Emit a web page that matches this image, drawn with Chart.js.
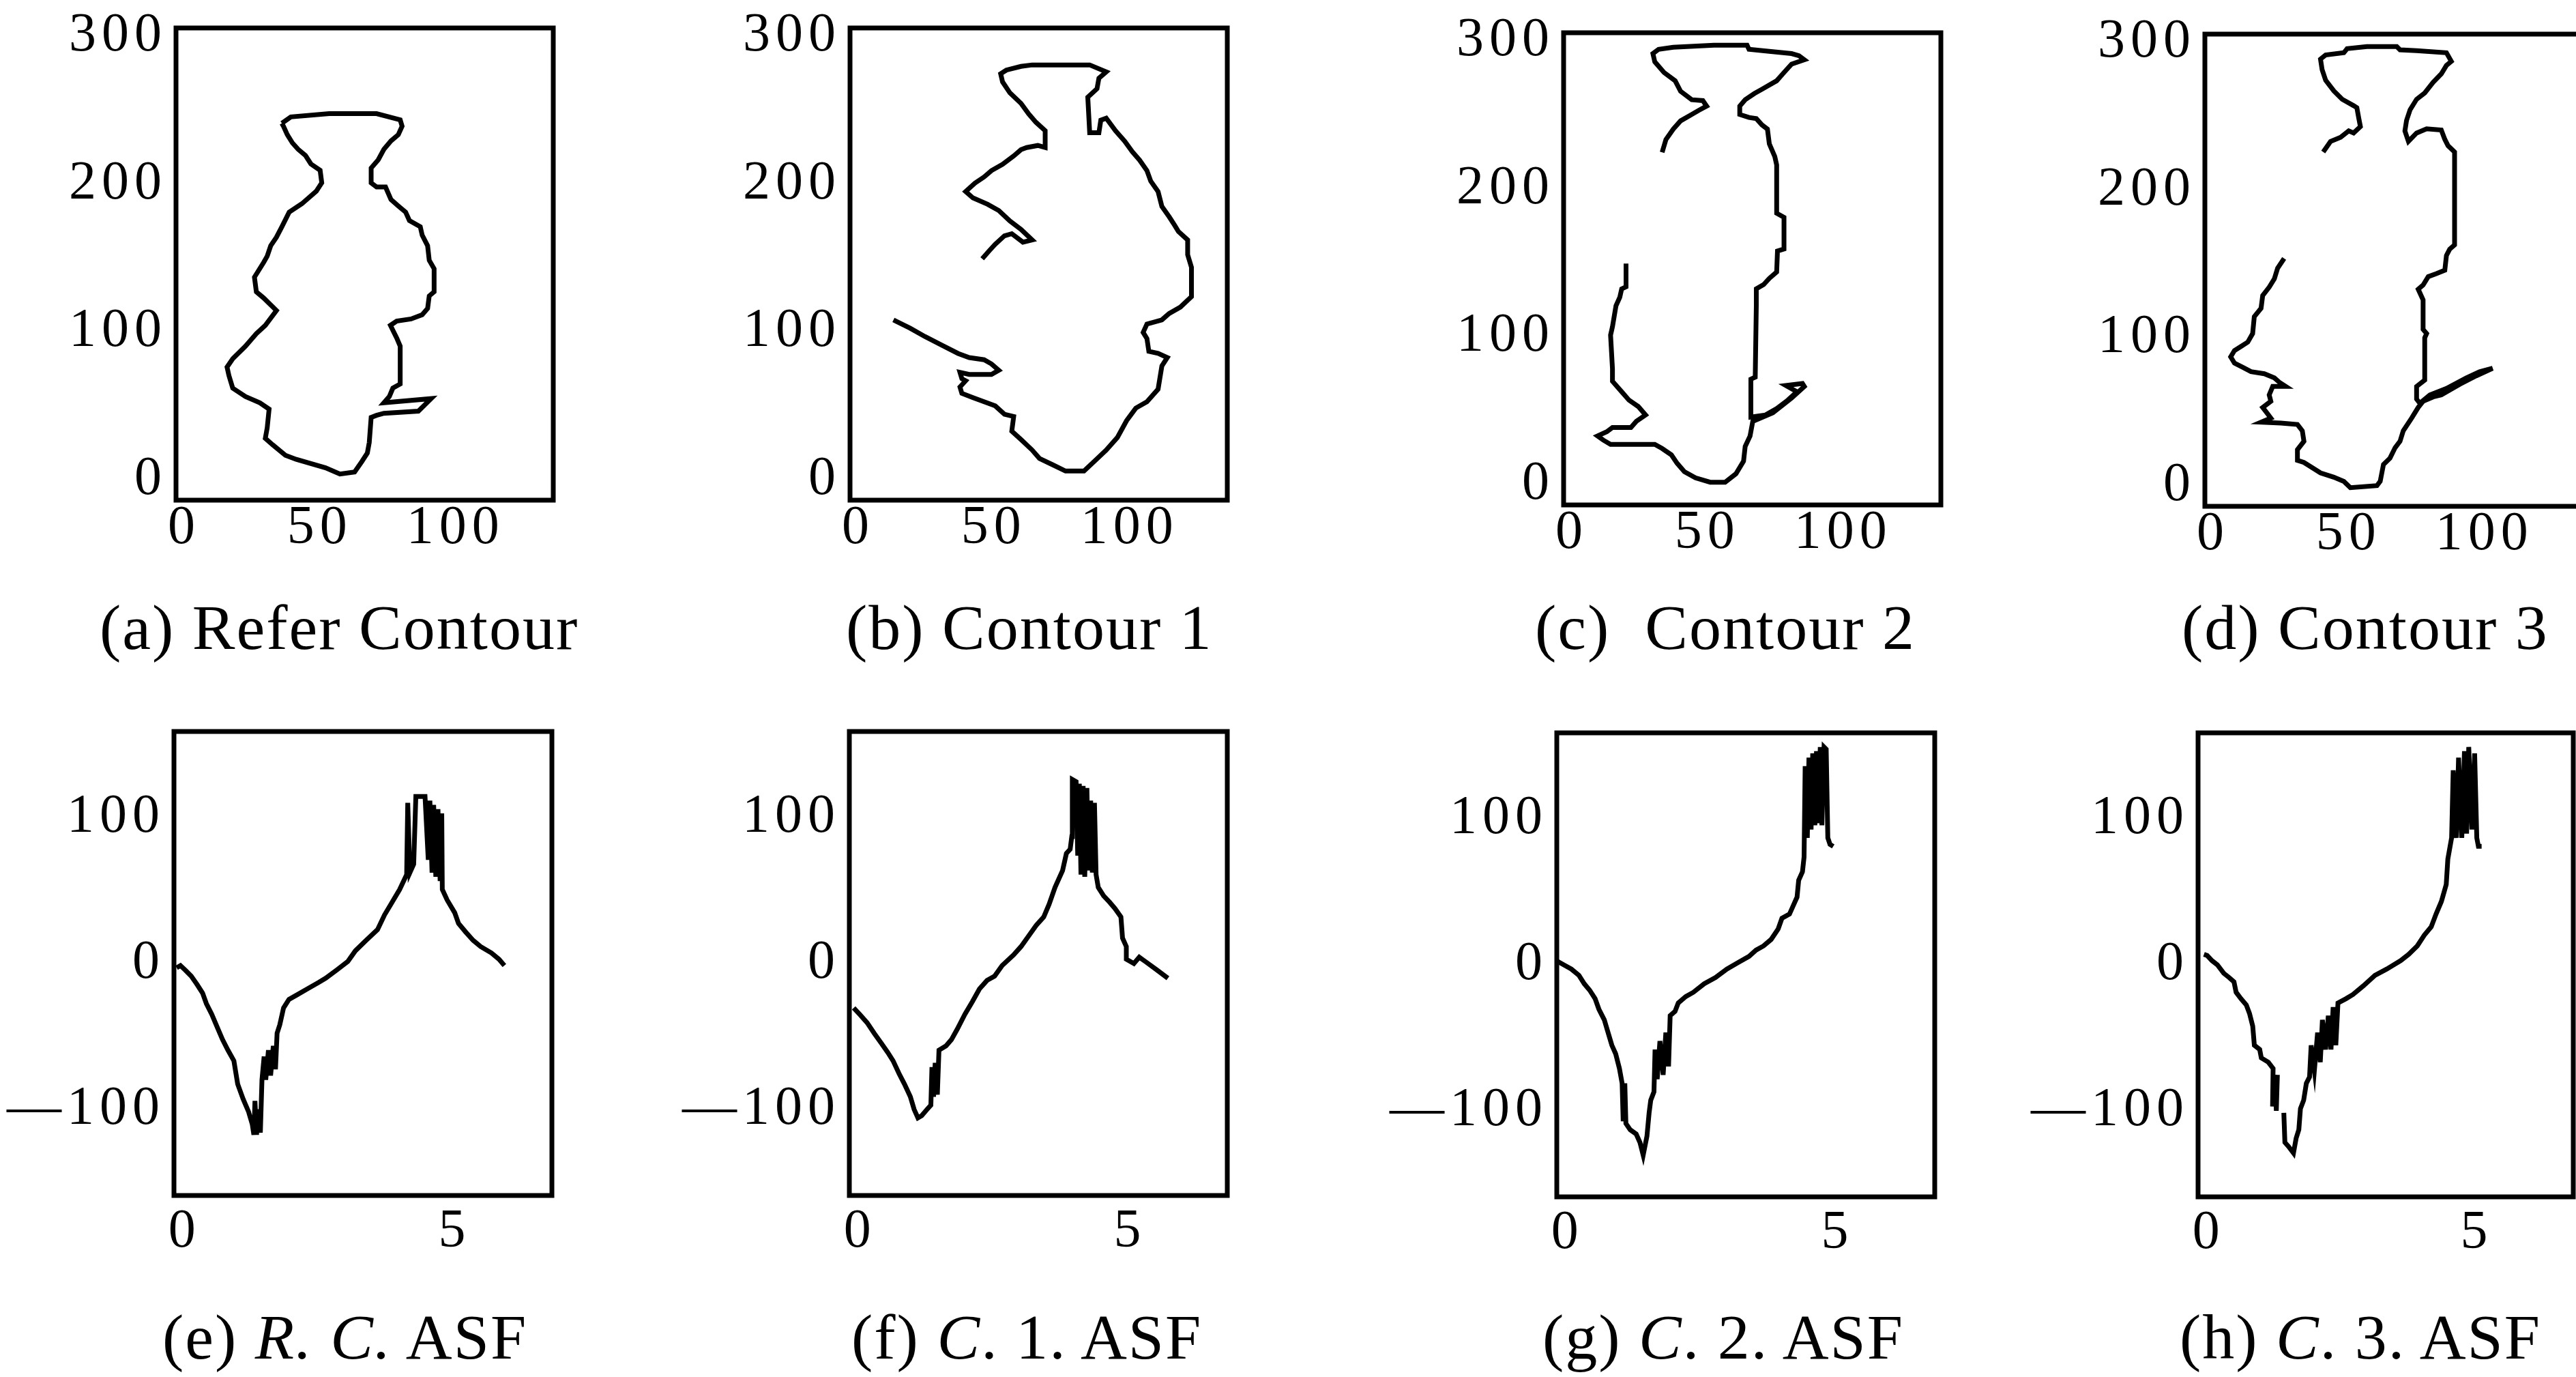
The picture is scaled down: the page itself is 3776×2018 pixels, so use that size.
<!DOCTYPE html>
<html>
<head>
<meta charset="utf-8">
<script src="https://cdn.jsdelivr.net/npm/chart.js@4.4.1/dist/chart.umd.min.js"></script>
<style>
  html, body { margin: 0; padding: 0; background: #fff; width: 3776px; height: 2018px; overflow: hidden; }
  body { position: relative; }
  canvas { position: absolute; }
  .cap { position: absolute; font-family: 'Liberation Serif', 'Times New Roman', serif; font-size: 94px; line-height: 94px; letter-spacing: 2px; white-space: pre; color: #000; }
</style>
</head>
<body>
<script>
// tick labels
const contourXTicks = [0, 50, 100];
const contourYTicks = [0, 100, 200, 300];
const asfXTicks = [0, 5];
const asfYTicks = [-100, 0, 100];

// (a) reference contour (closed)
const aX = [36.0, 39.3, 53.4, 70.9, 79.6, 80.3, 78.9, 76.2, 73.6, 71.5, 68.9, 68.9, 70.9, 74.2, 76.2, 78.9, 81.6, 83.0, 87.0, 87.7, 89.7, 90.3, 92.1, 92.1, 90.3, 89.7, 87.7, 83.6, 78.3, 76.0, 78.3, 79.6, 79.6, 76.9, 75.6, 73.6, 91.0, 86.3, 73.6, 70.9, 68.9, 68.2, 67.5, 65.5, 62.8, 57.4, 52.1, 41.3, 37.3, 32.6, 29.9, 30.6, 31.3, 27.9, 22.6, 17.9, 16.5, 15.8, 17.9, 22.6, 26.6, 29.9, 34.0, 29.3, 26.6, 25.9, 29.3, 30.6, 31.9, 34.0, 36.0, 38.7, 43.4, 48.7, 50.7, 50.1, 46.7, 44.7, 42.0, 39.9, 38.0, 36.6, 36.0];
const aY = [241.0, 245.3, 247.5, 247.5, 243.3, 239.0, 233.3, 229.1, 223.4, 216.3, 210.7, 200.7, 197.9, 197.9, 189.4, 185.1, 180.9, 175.2, 171.0, 165.3, 158.2, 148.3, 142.6, 127.0, 124.2, 115.7, 111.4, 108.6, 107.2, 104.3, 95.8, 90.2, 64.6, 61.8, 56.1, 51.9, 54.7, 46.2, 44.8, 43.4, 42.0, 25.0, 17.9, 12.2, 5.1, 3.7, 7.9, 13.6, 16.4, 23.5, 27.8, 34.9, 47.6, 51.9, 56.1, 61.8, 70.3, 76.0, 81.7, 90.2, 98.7, 104.3, 114.3, 122.8, 127.0, 136.9, 146.9, 151.1, 158.2, 163.9, 171.0, 180.9, 186.6, 195.1, 200.7, 209.2, 213.5, 219.2, 223.4, 227.7, 233.3, 239.0, 241.0];

// (b) contour 1
const bX = [13.0, 19.1, 24.6, 30.7, 36.8, 40.9, 46.4, 49.1, 51.8, 49.1, 40.9, 37.5, 38.2, 39.6, 37.5, 38.2, 42.3, 46.4, 50.5, 53.9, 57.3, 56.6, 60.0, 64.1, 66.8, 71.6, 76.4, 83.2, 87.3, 91.4, 95.5, 98.9, 102.3, 106.4, 110.5, 111.9, 113.9, 110.5, 107.1, 106.4, 105.0, 106.4, 111.9, 114.6, 118.7, 122.8, 122.8, 121.4, 121.4, 118.0, 116.6, 114.6, 111.9, 110.5, 107.8, 106.4, 103.7, 101.0, 98.2, 94.8, 91.4, 89.4, 88.7, 85.3, 84.6, 88.0, 88.7, 91.4, 85.3, 64.1, 60.0, 54.6, 52.5, 53.2, 55.9, 60.0, 62.8, 65.5, 68.9, 68.9, 66.2, 62.1, 60.0, 57.3, 53.2, 49.1, 46.4, 43.0, 39.6, 42.3, 47.7, 51.8, 55.9, 60.0, 64.1, 60.7, 56.6, 53.9, 50.5, 48.4, 45.7];
const bY = [108.0, 102.4, 96.7, 91.0, 85.3, 82.5, 81.0, 78.2, 73.9, 71.1, 71.1, 72.5, 68.2, 66.8, 62.6, 58.3, 55.4, 52.6, 49.8, 44.1, 42.6, 32.7, 27.0, 19.9, 14.2, 10.0, 5.7, 5.7, 12.8, 19.9, 28.4, 39.8, 48.3, 52.6, 61.1, 76.8, 82.5, 85.3, 86.7, 95.3, 99.5, 105.2, 108.0, 112.3, 116.6, 123.7, 143.6, 152.1, 162.1, 167.8, 172.0, 177.7, 184.8, 194.8, 201.9, 209.0, 216.1, 221.8, 228.9, 236.0, 244.5, 243.1, 234.6, 234.6, 258.7, 264.4, 271.5, 275.8, 280.5, 280.5, 279.5, 277.0, 274.5, 269.0, 261.6, 254.5, 247.4, 241.7, 236.0, 224.6, 226.0, 224.6, 223.2, 218.9, 213.2, 209.0, 204.7, 200.5, 194.8, 190.5, 186.2, 182.0, 174.9, 169.2, 162.1, 160.6, 166.3, 164.9, 159.2, 155.0, 149.3];

// (c) contour 2
const cX = [33.3, 34.7, 37.4, 40.1, 44.2, 46.9, 49.7, 48.3, 44.2, 40.1, 38.1, 34.0, 30.6, 29.9, 32.0, 37.4, 52.4, 64.6, 65.3, 72.8, 81.0, 83.7, 85.7, 81.0, 78.2, 75.5, 70.1, 67.3, 63.9, 61.9, 61.9, 65.3, 68.0, 70.1, 72.1, 72.8, 74.8, 75.5, 75.5, 78.2, 78.2, 75.8, 75.5, 72.8, 70.7, 68.0, 68.0, 67.6, 66.0, 66.0, 71.4, 75.5, 79.6, 83.0, 78.9, 85.0, 85.7, 81.0, 74.1, 66.7, 65.7, 63.9, 63.3, 60.5, 56.5, 51.0, 45.6, 41.5, 38.8, 36.7, 33.3, 30.6, 14.3, 11.6, 9.5, 12.9, 15.0, 21.8, 23.8, 27.2, 24.5, 21.1, 18.4, 15.0, 15.0, 14.3, 15.0, 16.3, 17.7, 18.4, 20.0, 20.0];
const cY = [224.6, 233.2, 240.3, 245.9, 250.2, 253.1, 255.9, 259.6, 260.2, 265.9, 273.0, 278.6, 285.8, 291.4, 294.3, 295.7, 297.1, 297.1, 294.3, 292.9, 291.4, 290.0, 287.2, 284.3, 278.6, 273.0, 267.3, 264.4, 260.2, 255.9, 250.2, 248.2, 247.4, 243.1, 240.3, 230.3, 221.8, 216.1, 183.4, 180.6, 159.2, 157.8, 143.6, 139.3, 135.1, 132.2, 120.8, 72.5, 71.1, 45.5, 46.9, 51.2, 56.9, 62.6, 66.8, 68.2, 66.2, 58.3, 48.3, 42.6, 32.7, 25.6, 15.6, 7.1, 1.4, 1.4, 4.3, 8.5, 14.2, 19.9, 24.2, 27.0, 27.0, 29.9, 32.7, 35.5, 38.4, 38.4, 42.6, 46.9, 52.6, 56.9, 62.6, 69.7, 78.2, 100.9, 106.6, 120.8, 126.5, 132.2, 133.6, 149.3];

// (d) contour 3
const dX = [40.6, 43.3, 47.0, 50.0, 51.8, 54.3, 53.7, 53.0, 51.8, 47.6, 44.5, 41.5, 40.2, 39.6, 41.5, 48.2, 49.4, 56.7, 67.7, 68.9, 75.0, 86.0, 87.8, 86.0, 84.1, 81.1, 78.0, 75.0, 72.6, 71.3, 70.7, 72.0, 75.0, 78.7, 84.1, 85.4, 86.6, 89.0, 89.0, 87.2, 86.0, 85.4, 82.3, 79.3, 77.4, 75.6, 77.4, 77.4, 78.7, 78.0, 78.0, 75.0, 75.0, 76.2, 79.9, 86.0, 93.3, 98.2, 103.0, 97.0, 90.9, 84.1, 81.1, 77.4, 75.6, 73.2, 70.1, 68.9, 67.1, 65.2, 62.8, 61.6, 60.4, 50.6, 48.2, 44.5, 39.6, 37.2, 33.5, 31.1, 31.1, 33.5, 32.9, 31.1, 25.0, 17.7, 21.3, 20.1, 18.3, 21.3, 20.7, 22.0, 26.8, 24.4, 22.6, 18.9, 14.0, 11.0, 7.9, 6.5, 7.9, 10.4, 12.8, 14.6, 15.2, 17.7, 18.3, 20.7, 22.6, 23.8, 26.2];
const dY = [225.7, 232.9, 235.7, 240.0, 238.6, 242.9, 248.6, 255.7, 257.1, 261.4, 267.1, 274.3, 281.4, 288.6, 291.4, 292.9, 295.7, 297.1, 297.1, 294.9, 294.3, 292.9, 287.1, 284.3, 278.6, 272.9, 265.7, 261.4, 254.3, 247.1, 240.0, 232.9, 238.6, 241.4, 240.6, 234.3, 230.0, 225.7, 162.9, 160.0, 155.7, 145.7, 143.4, 141.4, 135.7, 132.9, 125.7, 105.7, 102.9, 100.0, 71.4, 67.1, 58.6, 55.7, 61.4, 65.7, 72.9, 77.1, 79.4, 74.3, 68.6, 61.4, 60.0, 57.1, 52.9, 45.7, 37.1, 30.0, 25.7, 18.6, 14.3, 2.9, 0.0, -1.4, 2.9, 5.7, 8.6, 11.4, 15.7, 17.1, 24.3, 30.0, 37.1, 41.4, 42.3, 42.9, 45.7, 48.6, 52.9, 57.1, 61.4, 67.1, 67.1, 70.0, 72.9, 75.7, 77.1, 80.0, 82.9, 87.1, 91.4, 94.3, 97.1, 102.9, 114.3, 120.0, 128.6, 134.3, 140.0, 147.1, 153.7];

// (e) R.C. ASF
const eX = [-0.15, -0.08, 0.02, 0.12, 0.23, 0.33, 0.40, 0.50, 0.60, 0.70, 0.80, 0.91, 0.98, 1.08, 1.18, 1.25, 1.28, 1.30, 1.33, 1.36, 1.40, 1.43, 1.47, 1.50, 1.55, 1.59, 1.64, 1.68, 1.71, 1.76, 1.83, 1.93, 2.07, 2.27, 2.48, 2.61, 2.82, 3.02, 3.16, 3.36, 3.57, 3.70, 3.84, 3.98, 4.11, 4.13, 4.17, 4.24, 4.28, 4.45, 4.51, 4.54, 4.58, 4.61, 4.65, 4.69, 4.73, 4.76, 4.77, 4.86, 5.00, 5.07, 5.20, 5.34, 5.48, 5.68, 5.82, 5.92];
const eY = [-2.9, -1.4, -4.9, -8.7, -14.5, -20.3, -27.5, -34.8, -43.5, -52.2, -59.4, -66.7, -82.6, -92.8, -101.4, -110.1, -117.4, -94.2, -117.4, -100.0, -115.9, -79.7, -63.8, -79.7, -59.4, -76.8, -56.5, -72.5, -47.8, -42.0, -30.4, -24.6, -21.7, -17.4, -13.0, -10.1, -4.3, 1.4, 8.7, 15.9, 23.2, 33.3, 42.0, 50.7, 60.9, 110.1, 62.3, 68.1, 114.5, 114.5, 71.0, 111.6, 62.3, 108.7, 59.4, 105.8, 56.5, 102.9, 50.7, 43.5, 34.8, 27.5, 21.7, 15.9, 11.6, 7.2, 2.9, -1.4];

// (f) C.1. ASF
const fX = [-0.12, -0.01, 0.13, 0.26, 0.40, 0.51, 0.61, 0.72, 0.82, 0.93, 1.00, 1.07, 1.14, 1.24, 1.31, 1.33, 1.36, 1.39, 1.43, 1.46, 1.59, 1.69, 1.80, 1.94, 2.08, 2.21, 2.35, 2.49, 2.63, 2.84, 2.98, 3.12, 3.26, 3.40, 3.50, 3.61, 3.75, 3.82, 3.89, 3.92, 3.93, 4.00, 4.03, 4.06, 4.09, 4.13, 4.16, 4.20, 4.23, 4.27, 4.30, 4.34, 4.37, 4.41, 4.51, 4.62, 4.72, 4.83, 4.86, 4.93, 4.93, 5.07, 5.17, 5.28, 5.49, 5.70];
const fY = [-30.4, -34.8, -40.6, -47.8, -55.1, -60.9, -66.7, -75.4, -82.6, -91.3, -100.0, -105.8, -104.3, -100.0, -97.1, -71.0, -91.3, -68.1, -89.9, -59.4, -56.5, -52.2, -44.9, -34.8, -26.1, -17.4, -11.6, -8.7, -1.4, 5.8, 11.6, 18.8, 26.1, 31.9, 40.6, 52.2, 63.8, 75.4, 78.3, 87.0, 126.1, 124.6, 73.9, 123.2, 60.9, 121.7, 59.4, 120.3, 63.8, 111.6, 62.3, 110.1, 60.9, 52.2, 46.4, 42.0, 37.7, 31.9, 17.4, 11.6, 2.9, 0.0, 4.3, 1.4, -4.3, -10.1];

// (g) C.2. ASF
const gX = [-0.21, -0.07, 0.07, 0.21, 0.31, 0.41, 0.51, 0.58, 0.68, 0.75, 0.82, 0.89, 0.96, 1.01, 1.03, 1.06, 1.08, 1.16, 1.27, 1.34, 1.40, 1.47, 1.51, 1.54, 1.60, 1.62, 1.66, 1.71, 1.77, 1.82, 1.87, 1.90, 1.99, 2.05, 2.19, 2.33, 2.53, 2.74, 2.95, 3.15, 3.36, 3.49, 3.63, 3.77, 3.90, 3.97, 4.11, 4.18, 4.25, 4.28, 4.35, 4.38, 4.40, 4.44, 4.47, 4.51, 4.54, 4.58, 4.61, 4.64, 4.68, 4.71, 4.75, 4.79, 4.82, 4.86, 4.92];
const gY = [2.9, 0.0, -2.9, -7.2, -13.0, -17.4, -23.2, -30.4, -37.7, -46.4, -55.1, -60.9, -71.0, -81.2, -107.2, -81.2, -108.7, -113.0, -115.9, -121.7, -130.4, -117.4, -101.4, -92.8, -87.0, -58.0, -78.3, -52.2, -75.4, -46.4, -69.6, -34.8, -31.9, -26.1, -21.7, -18.8, -13.0, -8.7, -2.9, 1.4, 5.8, 10.1, 13.0, 17.4, 24.6, 31.9, 34.8, 40.6, 46.4, 58.0, 63.8, 73.9, 136.2, 87.0, 142.0, 92.8, 144.9, 95.7, 146.4, 97.1, 149.3, 95.7, 149.3, 147.8, 87.0, 82.6, 81.2];

// (h) C.3. ASF (null = break in the trace)
const hX = [-0.09, -0.03, 0.06, 0.16, 0.28, 0.38, 0.47, 0.51, 0.60, 0.70, 0.76, 0.82, 0.85, 0.95, 0.98, 1.11, 1.20, 1.19, 1.23, 1.26, 1.28, 1.33, 1.40, 1.42, 1.49, 1.58, 1.63, 1.68, 1.71, 1.77, 1.82, 1.88, 1.91, 1.97, 2.03, 2.08, 2.12, 2.18, 2.23, 2.28, 2.32, 2.37, 2.41, 2.56, 2.69, 2.88, 3.10, 3.32, 3.45, 3.58, 3.73, 3.89, 4.02, 4.15, 4.24, 4.34, 4.43, 4.46, 4.53, 4.56, 4.62, 4.66, 4.72, 4.77, 4.81, 4.85, 4.91, 4.96, 5.00, 5.03, 5.09];
const hY = [7.2, 6.4, 2.9, 0.0, -5.8, -8.7, -11.6, -18.8, -23.2, -27.5, -33.3, -42.0, -55.1, -58.0, -63.8, -66.7, -71.0, -97.1, -75.4, -100.0, -75.4, null, -101.4, -121.7, -124.6, -129.0, -118.8, -113.0, -98.6, -92.8, -81.2, -76.8, -55.1, -72.5, -46.4, -66.7, -37.7, -58.0, -34.8, -58.0, -29.0, -55.1, -26.1, -23.2, -20.3, -14.5, -7.2, -2.9, 0.0, 2.9, 7.2, 13.0, 20.3, 26.1, 34.8, 43.5, 55.1, 72.5, 87.0, 133.3, 87.0, 142.0, 87.0, 146.4, 89.9, 149.3, 92.8, 144.9, 87.0, 81.2, 81.2];

const captions = [
  '(a) Refer Contour', '(b) Contour 1', '(c)  Contour 2', '(d) Contour 3',
  '(e) <i>R. C.</i> ASF', '(f) <i>C</i>. 1. ASF', '(g) <i>C</i>. 2. ASF', '(h) <i>C</i>. 3. ASF'
];

// layout: frame box [left, top, width, height] in page pixels, caption [left, top]
const panels = [
  { xs: aX, ys: aY, kind: 'contour', box: [258, 41, 553, 692], cap: [146, 872] },
  { xs: bX, ys: bY, kind: 'contour', box: [1246, 41, 553, 692], cap: [1240, 872] },
  { xs: cX, ys: cY, kind: 'contour', box: [2292, 48, 553, 692], cap: [2250, 872] },
  { xs: dX, ys: dY, kind: 'contour', box: [3232, 50, 553, 692], cap: [3198, 872] },
  { xs: eX, ys: eY, kind: 'asf', box: [255, 1072, 554, 680], cap: [238, 1912] },
  { xs: fX, ys: fY, kind: 'asf', box: [1245, 1072, 554, 680], cap: [1248, 1912] },
  { xs: gX, ys: gY, kind: 'asf', box: [2282, 1074, 554, 680], cap: [2261, 1912] },
  { xs: hX, ys: hY, kind: 'asf', box: [3222, 1074, 550, 680], cap: [3195, 1912] }
];

const AXIS_W = 300, AXIS_H = 140, PAD_T = 70, PAD_R = 80;
const tickFont = { family: "'Liberation Serif', 'Times New Roman', serif", size: 80, lineHeight: 1 };

// box around the plot area, and wider spacing for the tick digits
const framePlugin = {
  id: 'frame',
  beforeDraw(chart) {
    chart.ctx.letterSpacing = '8px';
  },
  afterDraw(chart) {
    const { ctx, chartArea: a } = chart;
    ctx.save();
    ctx.strokeStyle = '#000';
    ctx.lineWidth = 7;
    ctx.strokeRect(a.left, a.top, a.right - a.left, a.bottom - a.top);
    ctx.restore();
  }
};

function fmt(v) {
  return v < 0 ? '\u2014' + Math.abs(v) : String(v);
}

panels.forEach(function(p, i) {
  const [L, T, W, H] = p.box;
  const canvas = document.createElement('canvas');
  canvas.width = W + AXIS_W + PAD_R;
  canvas.height = H + AXIS_H + PAD_T;
  canvas.style.left = (L - AXIS_W) + 'px';
  canvas.style.top = (T - PAD_T) + 'px';
  canvas.style.width = canvas.width + 'px';
  canvas.style.height = canvas.height + 'px';
  document.body.appendChild(canvas);

  const isContour = p.kind === 'contour';
  const xTicks = isContour ? contourXTicks : asfXTicks;
  const yTicks = isContour ? contourYTicks : asfYTicks;
  const n = Math.min(p.xs.length, p.ys.length);
  const pts = [];
  for (let k = 0; k < n; k++) pts.push({ x: p.xs[k], y: p.ys[k] });

  new Chart(canvas.getContext('2d'), {
    type: 'scatter',
    data: {
      datasets: [{
        data: pts,
        showLine: true,
        borderColor: '#000',
        borderWidth: 7,
        borderJoinStyle: 'miter',
        pointRadius: 0,
        fill: false,
        tension: 0,
        spanGaps: false
      }]
    },
    options: {
      responsive: false,
      animation: false,
      layout: { padding: { top: PAD_T, right: PAD_R, left: 0, bottom: 0 } },
      plugins: { legend: { display: false }, tooltip: { enabled: false } },
      scales: {
        x: {
          type: 'linear',
          min: isContour ? -3 : -0.2,
          max: isContour ? 136 : 6.8,
          grid: { display: false, drawTicks: false },
          border: { display: false },
          afterBuildTicks: function(axis) { axis.ticks = xTicks.map(v => ({ value: v })); },
          afterFit: function(axis) { axis.height = AXIS_H; },
          ticks: { font: tickFont, color: '#000', padding: isContour ? 2 : 14, maxRotation: 0, autoSkip: false, callback: fmt }
        },
        y: {
          type: 'linear',
          min: isContour ? -14 : -159,
          max: isContour ? 305.5 : 159,
          grid: { display: false, drawTicks: false },
          border: { display: false },
          afterBuildTicks: function(axis) { axis.ticks = yTicks.map(v => ({ value: v })); },
          afterFit: function(axis) { axis.width = AXIS_W; },
          ticks: { font: tickFont, color: '#000', padding: 13, autoSkip: false, callback: fmt }
        }
      }
    },
    plugins: [framePlugin]
  });

  const cap = document.createElement('div');
  cap.className = 'cap';
  cap.innerHTML = captions[i];
  cap.style.left = p.cap[0] + 'px';
  cap.style.top = p.cap[1] + 'px';
  document.body.appendChild(cap);
});
</script>
</body>
</html>
